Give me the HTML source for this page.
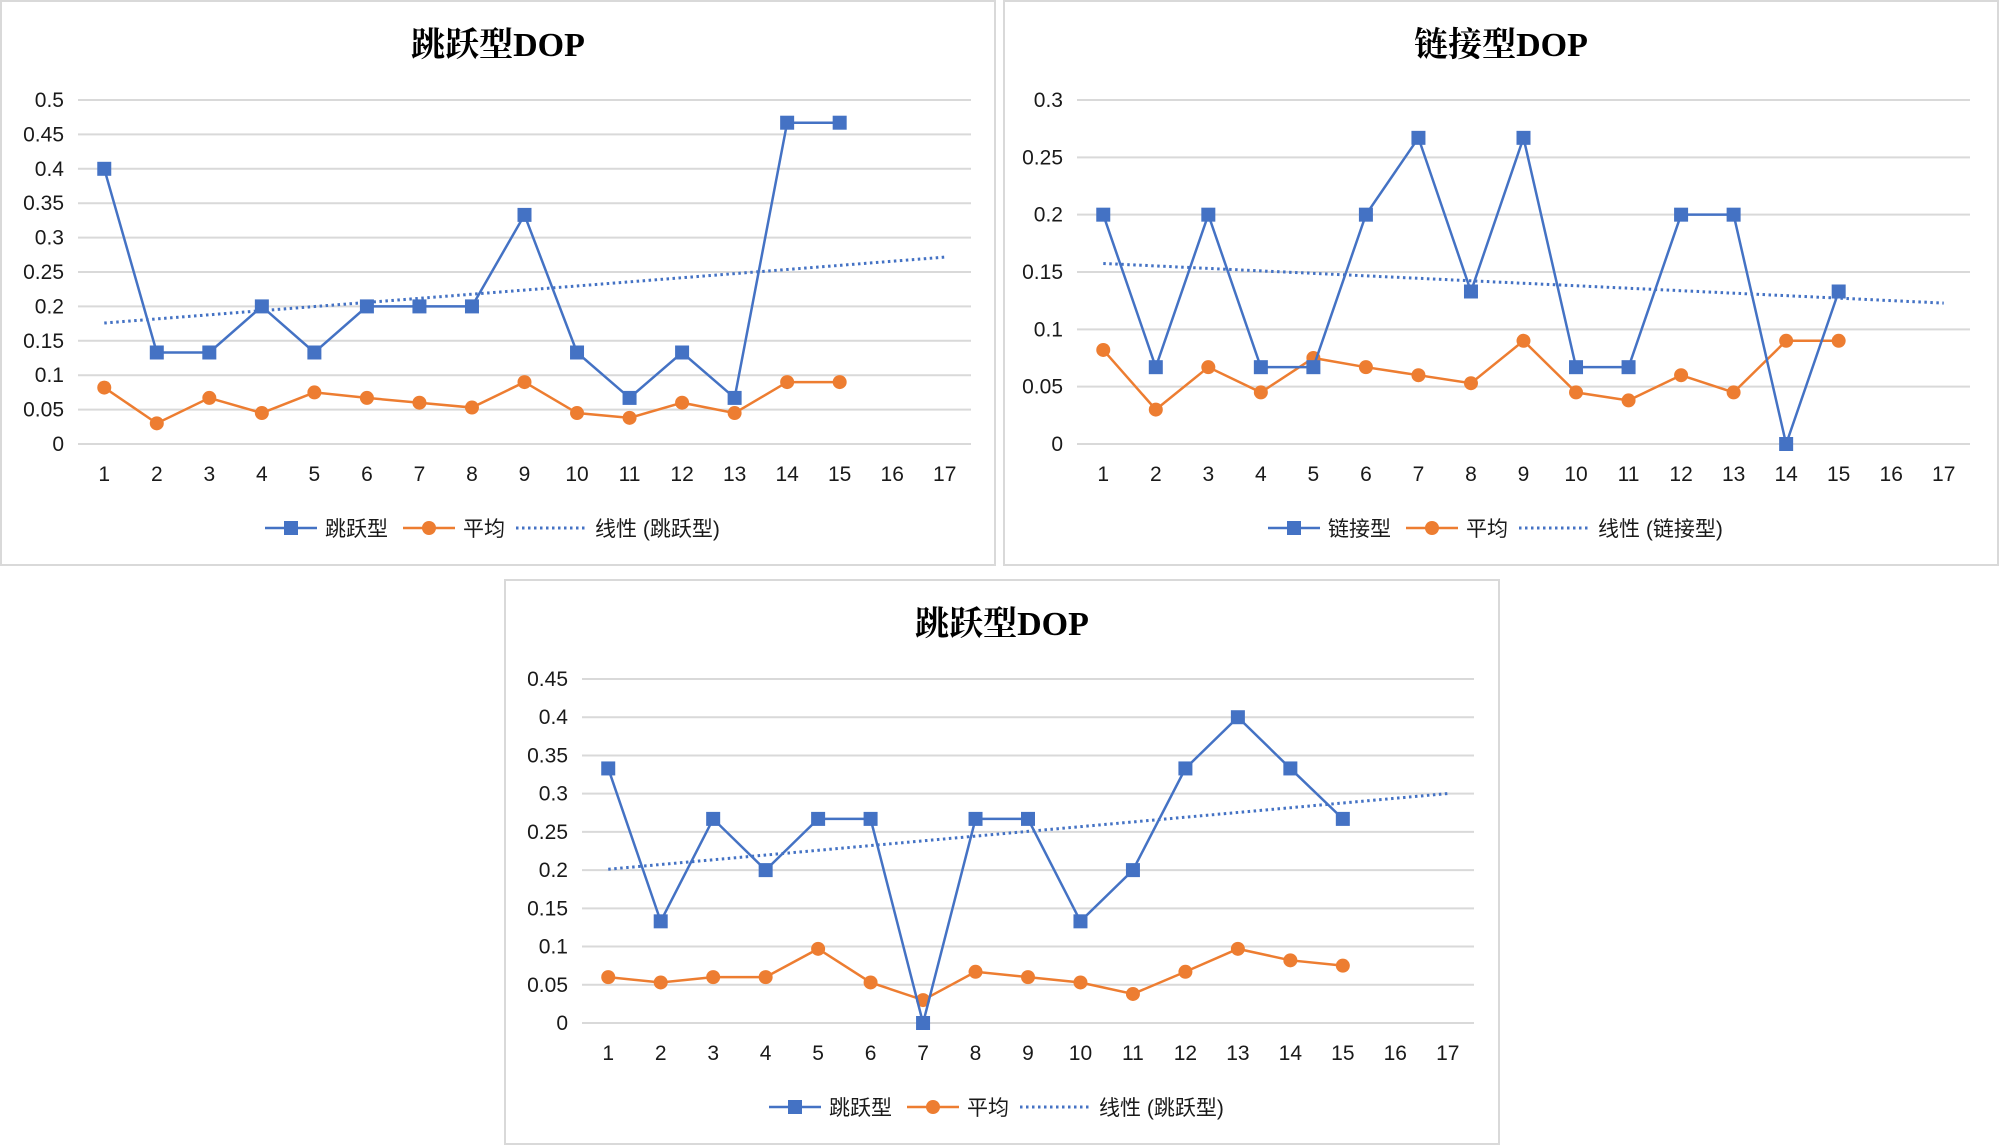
<!DOCTYPE html>
<html><head><meta charset="utf-8">
<style>
html,body{margin:0;padding:0;background:#fff;}
svg{display:block;}
text{font-family:"Liberation Sans","Noto Sans CJK SC",sans-serif;fill:#1a1a1a;}
.title{font-family:"Liberation Serif","Noto Serif CJK SC",serif;font-weight:bold;fill:#000;font-size:34px;}
</style></head>
<body>
<svg id="root" width="1999" height="1146" viewBox="0 0 1999 1146" xmlns="http://www.w3.org/2000/svg"></svg>
<script>
const categories = [1,2,3,4,5,6,7,8,9,10,11,12,13,14,15,16,17];
const c1Title = "跳跃型DOP";
const c1SeriesName = "跳跃型";
const c1Blue = [0.4,0.133,0.133,0.2,0.133,0.2,0.2,0.2,0.333,0.133,0.067,0.133,0.067,0.467,0.467];
const c1Orange = [0.082,0.03,0.067,0.045,0.075,0.067,0.06,0.053,0.09,0.045,0.038,0.06,0.045,0.09,0.09];
const c1Ticks = [0,0.05,0.1,0.15,0.2,0.25,0.3,0.35,0.4,0.45,0.5];
const c1TickLabels = ["0","0.05","0.1","0.15","0.2","0.25","0.3","0.35","0.4","0.45","0.5"];

const c2Title = "链接型DOP";
const c2SeriesName = "链接型";
const c2Blue = [0.2,0.067,0.2,0.067,0.067,0.2,0.267,0.133,0.267,0.067,0.067,0.2,0.2,0,0.133];
const c2Orange = [0.082,0.03,0.067,0.045,0.075,0.067,0.06,0.053,0.09,0.045,0.038,0.06,0.045,0.09,0.09];
const c2Ticks = [0,0.05,0.1,0.15,0.2,0.25,0.3];
const c2TickLabels = ["0","0.05","0.1","0.15","0.2","0.25","0.3"];

const c3Title = "跳跃型DOP";
const c3SeriesName = "跳跃型";
const c3Blue = [0.333,0.133,0.267,0.2,0.267,0.267,0,0.267,0.267,0.133,0.2,0.333,0.4,0.333,0.267];
const c3Orange = [0.06,0.053,0.06,0.06,0.097,0.053,0.03,0.067,0.06,0.053,0.038,0.067,0.097,0.082,0.075];
const c3Ticks = [0,0.05,0.1,0.15,0.2,0.25,0.3,0.35,0.4,0.45];
const c3TickLabels = ["0","0.05","0.1","0.15","0.2","0.25","0.3","0.35","0.4","0.45"];

const NS="http://www.w3.org/2000/svg";
const root=document.getElementById('root');
function mk(tag,attrs,parent){const e=document.createElementNS(NS,tag);for(const k in attrs)e.setAttribute(k,attrs[k]);(parent||root).appendChild(e);return e;}

function drawChart(id,fx,fy,pl,pr,title,name,blue,orange,ticks,tickLabels){
  const g=mk('g',{});
  
  
  const fr=mk('rect',{x:fx+1,y:fy+1,width:994,height:564,fill:'#fff',stroke:'#d9d9d9','stroke-width':2},g);
  
  
  const pt=fy+100,pb=fy+444;
  const ymax=ticks[ticks.length-1];
  const Y=v=>pb-(v/ymax)*(pb-pt);
  const bw=(pr-pl)/categories.length;
  const X=i=>pl+bw*(i+0.5);
  const t=mk('text',{x:fx+498,y:fy+56,'text-anchor':'middle',class:'title'},g);
  t.textContent=title;
  
  
  ticks.forEach((v,i)=>{
    const l=mk('line',{x1:pl,x2:pr,y1:Y(v),y2:Y(v),stroke:'#d9d9d9','stroke-width':2},g);
    
    
    const tx=mk('text',{x:pl-14,y:Y(v)+7,'text-anchor':'end','font-size':21},g);
    tx.textContent=tickLabels[i];
    
    
  });
  categories.forEach((c,i)=>{
    const tx=mk('text',{x:X(i),y:fy+481,'text-anchor':'middle','font-size':21},g);
    tx.textContent=c;
    
    
  });
  const n=blue.length;let sx=0,sy=0,sxx=0,sxy=0;
  blue.forEach((v,i)=>{const x=i+1;sx+=x;sy+=v;sxx+=x*x;sxy+=x*v;});
  const b=(n*sxy-sx*sy)/(n*sxx-sx*sx),a=(sy-b*sx)/n;
  const tl=mk('line',{x1:X(0),y1:Y(a+b*1),x2:X(categories.length-1),y2:Y(a+b*categories.length),stroke:'#4472C4','stroke-width':3,'stroke-dasharray':'2.5 3.5'},g);
  
  
  const po=mk('polyline',{points:orange.map((v,i)=>X(i)+','+Y(v)).join(' '),fill:'none',stroke:'#ED7D31','stroke-width':2.5},g);
  
  
  orange.forEach((v,i)=>{
    const c=mk('circle',{cx:X(i),cy:Y(v),r:7,fill:'#ED7D31'},g);
    
    
  });
  const pb2=mk('polyline',{points:blue.map((v,i)=>X(i)+','+Y(v)).join(' '),fill:'none',stroke:'#4472C4','stroke-width':2.5},g);
  
  
  blue.forEach((v,i)=>{
    const r=mk('rect',{x:X(i)-7,y:Y(v)-7,width:14,height:14,fill:'#4472C4'},g);
    
    
  });
  const ly=fy+528, lx=fx+265;
  const lg=mk('g',{},g);
  
  
  mk('line',{x1:lx,x2:lx+52,y1:ly,y2:ly,stroke:'#4472C4','stroke-width':2.5},lg);
  mk('rect',{x:lx+19,y:ly-7,width:14,height:14,fill:'#4472C4'},lg);
  const t1=mk('text',{x:lx+60,y:ly+8,'font-size':21},lg);t1.textContent=name;
  
  
  mk('line',{x1:lx+138,x2:lx+190,y1:ly,y2:ly,stroke:'#ED7D31','stroke-width':2.5},lg);
  mk('circle',{cx:lx+164,cy:ly,r:7,fill:'#ED7D31'},lg);
  const t2=mk('text',{x:lx+198,y:ly+8,'font-size':21},lg);t2.textContent="平均";
  
  
  mk('line',{x1:lx+251,x2:lx+320,y1:ly,y2:ly,stroke:'#4472C4','stroke-width':3,'stroke-dasharray':'2.5 3.5'},lg);
  const t3=mk('text',{x:lx+330,y:ly+8,'font-size':21},lg);t3.textContent="线性 ("+name+")";
  
  
}
drawChart('chart-jump-top',0,0,78,971,c1Title,c1SeriesName,c1Blue,c1Orange,c1Ticks,c1TickLabels);
drawChart('chart-link',1003,0,1077,1970,c2Title,c2SeriesName,c2Blue,c2Orange,c2Ticks,c2TickLabels);
drawChart('chart-jump-bottom',504,579,582,1474,c3Title,c3SeriesName,c3Blue,c3Orange,c3Ticks,c3TickLabels);
</script>
</body></html>
